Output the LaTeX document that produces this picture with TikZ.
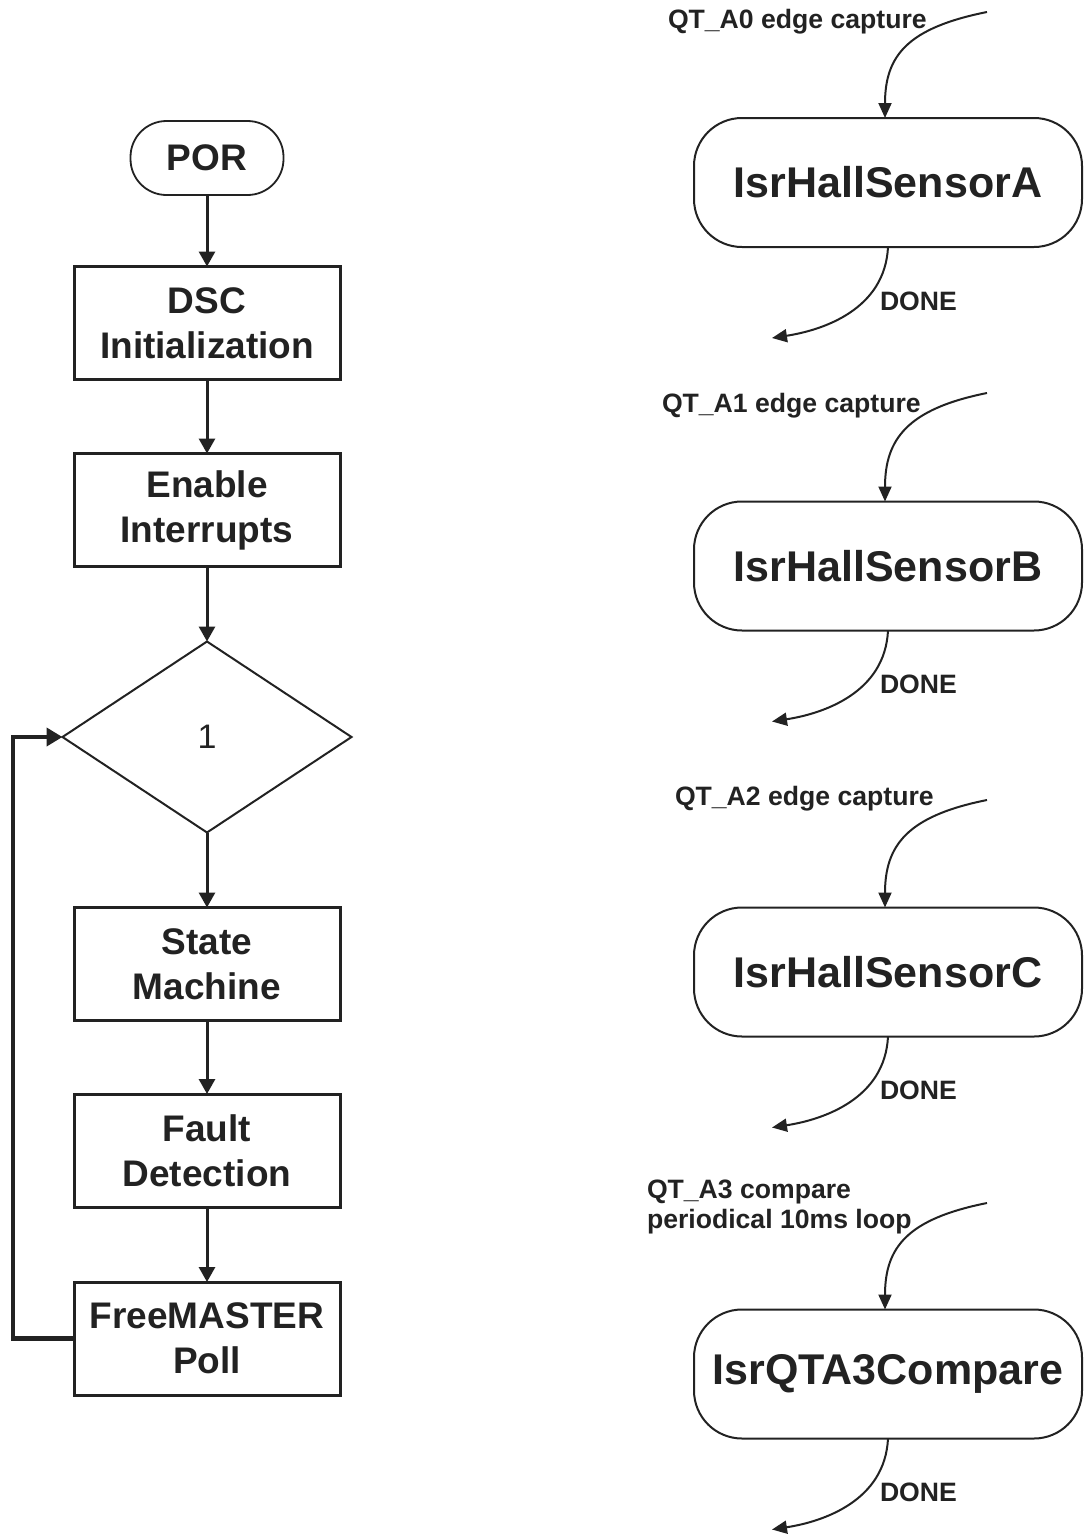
\documentclass[tikz,border=0pt]{standalone}
\usepackage{fontspec}
\setmainfont{Liberation Sans}
\usetikzlibrary{arrows.meta,shapes.geometric}
\definecolor{ink}{HTML}{222222}

\begin{document}
\begin{tikzpicture}[x=0.5pt,y=-0.5pt,
  every node/.style={text=ink, inner sep=0pt, outer sep=0pt},
  flowbox/.style={draw=ink, line width=1.5pt, minimum width=133pt, minimum height=56.5pt,
    align=center, font=\bfseries\fontsize{18.5}{22.5}\selectfont},
  startbox/.style={draw=ink, line width=0.9pt, rounded corners=18pt, minimum width=76.5pt,
    minimum height=37pt, font=\bfseries\fontsize{18.5}{22.5}\selectfont},
  decision/.style={diamond, draw=ink, line width=1pt, minimum width=144.5pt,
    minimum height=95.5pt, font=\fontsize{17}{20}\selectfont},
  isrbox/.style={draw=ink, line width=1pt, rounded corners=24pt, minimum width=194pt,
    minimum height=64.5pt, font=\bfseries\fontsize{21.5}{26}\selectfont},
  flow/.style={draw=ink, line width=1.5pt, -{Triangle[length=7.5pt,width=8pt]}},
  loopback/.style={draw=ink, line width=2.2pt, -{Triangle[length=8pt,width=9pt]}},
  event/.style={draw=ink, line width=1pt, -{Triangle[length=7.5pt,width=6.5pt]}},
  evlabel/.style={anchor=west, align=left, font=\bfseries\fontsize{13.3}{15}\selectfont},
]
\useasboundingbox (0,0) rectangle (1084,1537);

% ---------- main loop flowchart ----------
\node[startbox] (por) at (207,158) {POR};
\node[flowbox] (init) at (207,323) {DSC\\Initialization};
\node[flowbox] (irq) at (207,510) {Enable\\Interrupts};
\node[decision] (dec) at (207,737) {1};
\node[flowbox] (sm) at (207,964) {State\\Machine};
\node[flowbox] (fault) at (207,1150.5) {Fault\\Detection};
\node[flowbox] (fm) at (207,1338.5) {FreeMASTER\\Poll};

\draw[flow] (por) -- (init);
\draw[flow] (init) -- (irq);
\draw[flow] (irq) -- (dec.north);
\draw[flow] (dec.south) -- (sm);
\draw[flow] (sm) -- (fault);
\draw[flow] (fault) -- (fm);

\coordinate (lp) at (13,0);
\draw[loopback] (fm.west) -- (fm.west -| lp) |- (dec.west);

% ---------- interrupt service routines ----------
\node[isrbox] (isrA) at (888,182.5) {IsrHallSensorA};
\node[isrbox] (isrB) at (888,566) {IsrHallSensorB};
\node[isrbox] (isrC) at (888,972) {IsrHallSensorC};
\node[isrbox] (isrD) at (888,1374) {IsrQTA3Compare};

\node[evlabel] (evA) at (668,22) {QT\_A0 edge capture};
\node[evlabel] (evB) at (662,406) {QT\_A1 edge capture};
\node[evlabel] (evC) at (675,799) {QT\_A2 edge capture};
\node[evlabel] (evD) at (647,1207) {QT\_A3 compare\\periodical 10ms loop};

\coordinate (inA) at (987,12);
\coordinate (inB) at (987,393);
\coordinate (inC) at (987,800);
\coordinate (inD) at (987,1203);

\foreach \n in {A,B,C,D}{
  \draw[event] (in\n) .. controls ++(-80,16) and ++(0,-62) .. ([xshift=-1.5pt]isr\n.north);
  \draw[event] (isr\n.south) .. controls ++(-3,62) and ++(52,-8) .. ++(-116,91);
  \node[evlabel] (done\n) at ([xshift=-4pt,yshift=-27pt]isr\n.south) {DONE};
}
\end{tikzpicture}
\end{document}
